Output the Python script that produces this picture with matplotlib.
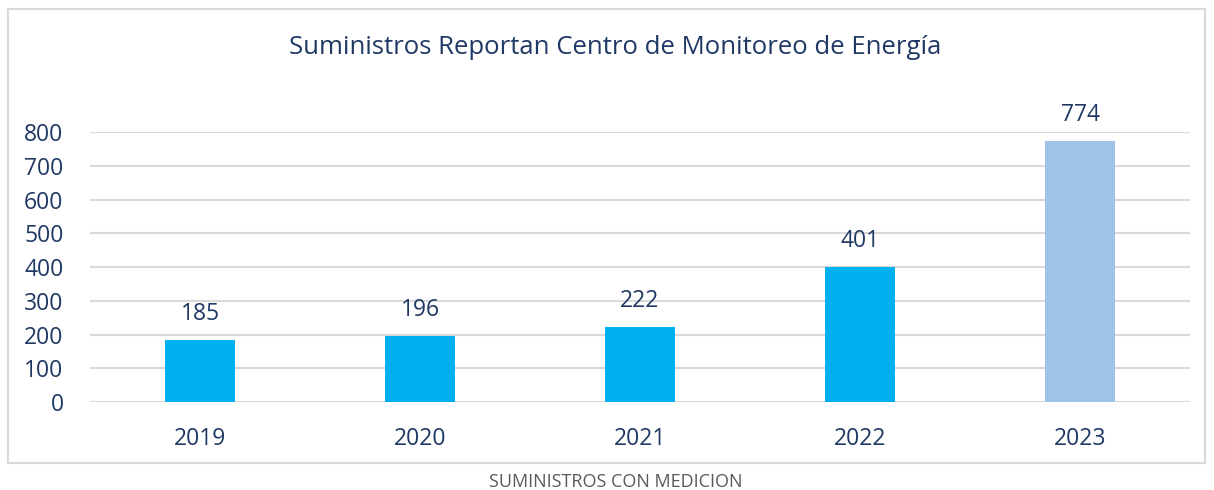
import matplotlib
matplotlib.use("Agg")
import matplotlib.pyplot as plt
from matplotlib.patches import Rectangle

years = ["2019", "2020", "2021", "2022", "2023"]
values = [185, 196, 222, 401, 774]
colors = ["#00B0F0", "#00B0F0", "#00B0F0", "#00B0F0", "#9DC3E6"]
yticks = [0, 100, 200, 300, 400, 500, 600, 700, 800]

plt.rcParams['font.family'] = ['Open Sans', 'DejaVu Sans']
navy = "#203864"

W, H = 1214, 490
fig = plt.figure(figsize=(W/100, H/100), dpi=100)
fig.patch.set_facecolor("white")

# outer chart border
fig.add_artist(Rectangle((8/W, 1-463/H), (1205-8)/W, (463-9)/H,
                         transform=fig.transFigure, fill=False,
                         edgecolor="#D9D9D9", linewidth=1.5))

ax = fig.add_axes([90/W, 1-402/H, 1100/W, (402-132)/H])
x = list(range(len(years)))
ax.bar(x, values, width=0.314, color=colors, zorder=3)
ax.set_xlim(-0.5, 4.5)
ax.set_ylim(0, 800)
ax.set_yticks(yticks)
ax.set_xticks(x)
ax.set_xticklabels(years)
ax.tick_params(axis='both', length=0, labelsize=16.5, colors=navy)
ax.tick_params(axis='x', pad=18)
ax.tick_params(axis='y', pad=19)
ax.grid(axis='y', color="#D9D9D9", linewidth=1.5, zorder=0)
for s in ax.spines.values():
    s.set_visible(False)

for xi, v in zip(x, values):
    ax.annotate(str(v), (xi, v), xytext=(0, 10), textcoords="offset points",
                ha="center", va="bottom", fontsize=16.5, color=navy)

fig.text(615/W, 1-47/H, "Suministros Reportan Centro de Monitoreo de Energía",
         ha="center", va="center", fontsize=18.5, color=navy)
fig.text(616/W, 1-482/H, "SUMINISTROS CON MEDICION",
         ha="center", va="center", fontsize=13, color="#595959")

fig.savefig("out.png", dpi=100)
